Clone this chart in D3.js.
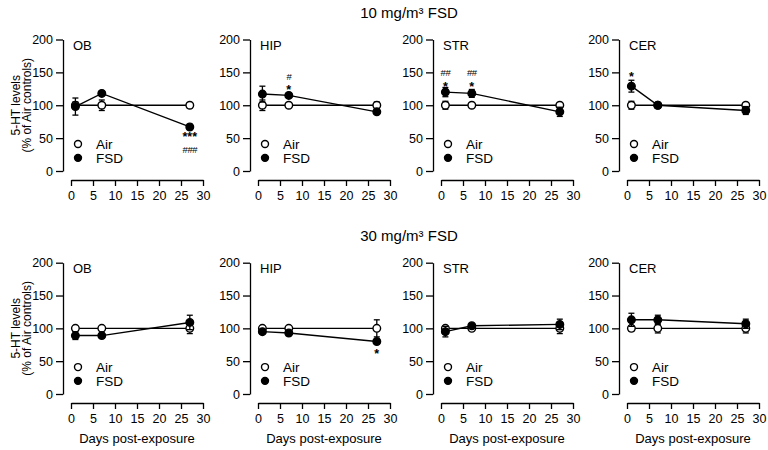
<!DOCTYPE html>
<html><head><meta charset="utf-8">
<script src="https://cdn.jsdelivr.net/npm/d3@7"></script>
<style>body{margin:0;background:#fff}svg{display:block}text{font-family:"Liberation Sans",Arial,sans-serif;fill:#000}</style>
</head><body><svg id="c" width="768" height="450"></svg>
<script>
const days = [1, 7, 27];
const regions = ["OB", "HIP", "STR", "CER"];
const doseTitles = ["10 mg/m³ FSD", "30 mg/m³ FSD"];
const yTicks = [0, 50, 100, 150, 200];
const xTicks = [0, 5, 10, 15, 20, 25, 30];

// 10 mg/m3
const airMean10 = [[100,100,100],[100,100,100],[100,100,100],[100,100,100]];
const airErr10  = [[5,8,4],[8,3,5],[6,3,3],[6,4,3]];
const fsdMean10 = [[98,118,67],[117,115,90],[120,118,90],[129,100,92]];
const fsdErr10  = [[13,3,4],[12,3,3],[7,6,7],[9,4,6]];
// 30 mg/m3
const airMean30 = [[100,100,100],[100,100,100],[100,100,100],[100,100,100]];
const airErr30  = [[3,3,8],[3,3,13],[3,3,8],[4,7,7]];
const fsdMean30 = [[89,89,109],[95,93,80],[95,104,106],[113,113,107]];
const fsdErr30  = [[6,3,11],[3,4,3],[8,3,8],[10,7,7]];

// significance marks: [dose index, region index, day, label, y value of glyph centre]
const marks = [
  [0,0,27,"***",57],[0,0,27,"###",32],
  [0,1,7,"*",129],[0,1,7,"#",143],
  [0,2,1,"*",133],[0,2,1,"##",149],
  [0,2,7,"*",133],[0,2,7,"##",149],
  [0,3,1,"*",148],
  [1,1,27,"*",66]
];

const doses = [
  {air: airMean10, airE: airErr10, fsd: fsdMean10, fsdE: fsdErr10},
  {air: airMean30, airE: airErr30, fsd: fsdMean30, fsdE: fsdErr30}
];

const svg = d3.select("#c");
const axisX = [63, 250, 433, 619];
const rowTop = [39.5, 262.7], rowBot = [171, 394];
const titleY = [18, 241];

doses.forEach((d, ri) => {
  svg.append("text").attr("x", 409).attr("y", titleY[ri]).attr("text-anchor","middle")
    .style("font-size","15px").text(doseTitles[ri]);
  const yMid = (rowTop[ri] + rowBot[ri]) / 2;
  const yl = svg.append("text").attr("transform", `translate(20,${yMid}) rotate(-90)`)
    .attr("text-anchor","middle").style("font-size","12px");
  yl.append("tspan").attr("x",0).attr("dy",0).text("5-HT levels");
  yl.append("tspan").attr("x",0).attr("dy","10.5px").text("(% of Air controls)");

  regions.forEach((reg, ci) => {
    const ax = axisX[ci];
    const x = d3.scaleLinear().domain([0,30]).range([ax+8, ax+140]);
    const y = d3.scaleLinear().domain([0,200]).range([rowBot[ri], rowTop[ri]]);
    const g = svg.append("g");
    const ya = g.append("g").attr("transform",`translate(${ax},0)`)
      .call(d3.axisLeft(y).tickValues(yTicks).tickSize(7).tickPadding(3).tickSizeOuter(0));
    const xa = g.append("g").attr("transform",`translate(0,${rowBot[ri]+9})`)
      .call(d3.axisBottom(x).tickValues(xTicks).tickSize(6).tickPadding(5).tickSizeOuter(0));
    [ya, xa].forEach(a => {
      a.selectAll("path,line").attr("stroke","#000").attr("stroke-width",1.3);
      a.selectAll("text").style("font-size","12.5px").style("font-family",'"Liberation Sans",Arial,sans-serif');
    });
    g.append("text").attr("x", ax+10).attr("y", rowTop[ri]+10).style("font-size","13px").text(reg);

    if (ri === 1) {
      g.append("text").attr("x", ax+74).attr("y", 443).attr("text-anchor","middle")
        .style("font-size","13px").text("Days post-exposure");
    }

    const line = d3.line().x((v,i)=>x(days[i])).y(v=>y(v));
    const series = [
      {m: d.air[ci], e: d.airE[ci], fill: "#fff"},
      {m: d.fsd[ci], e: d.fsdE[ci], fill: "#000"}
    ];
    series.forEach(s => {
      g.append("path").attr("d", line(s.m)).attr("fill","none").attr("stroke","#000").attr("stroke-width",1.4);
    });
    series.forEach(s => {
      s.m.forEach((v,i) => {
        const cx = x(days[i]);
        g.append("line").attr("x1",cx).attr("x2",cx).attr("y1",y(v+s.e[i])).attr("y2",y(v-s.e[i]))
          .attr("stroke","#000").attr("stroke-width",1.3);
        [v+s.e[i], v-s.e[i]].forEach(t => g.append("line").attr("x1",cx-3).attr("x2",cx+3)
          .attr("y1",y(t)).attr("y2",y(t)).attr("stroke","#000").attr("stroke-width",1.3));
      });
      s.m.forEach((v,i) => {
        g.append("circle").attr("cx",x(days[i])).attr("cy",y(v)).attr("r",3.8)
          .attr("fill",s.fill).attr("stroke","#000").attr("stroke-width",1.4);
      });
    });

    // legend
    [["Air","#fff",41],["FSD","#000",20]].forEach(([lab,f,v]) => {
      g.append("circle").attr("cx",ax+15).attr("cy",y(v)).attr("r",3.5).attr("fill",f)
        .attr("stroke","#000").attr("stroke-width",1.4);
      g.append("text").attr("x",ax+33).attr("y",y(v)).attr("dy","0.35em").style("font-size","13.5px").text(lab);
    });

    // significance marks
    marks.filter(m => m[0]===ri && m[1]===ci).forEach(m => {
      const isStar = m[3].startsWith("*");
      const fs = isStar ? 12.5 : 9.5;
      g.append("text").attr("x", x(m[2])).attr("y", y(m[4]) + (isStar ? 0.6*fs : 0.36*fs))
        .attr("text-anchor","middle")
        .style("font-size", fs + "px")
        .style("font-weight", isStar ? "bold" : "normal")
        .style("letter-spacing", isStar ? "0px" : "-0.5px").text(m[3]);
    });
  });
});
</script></body></html>
